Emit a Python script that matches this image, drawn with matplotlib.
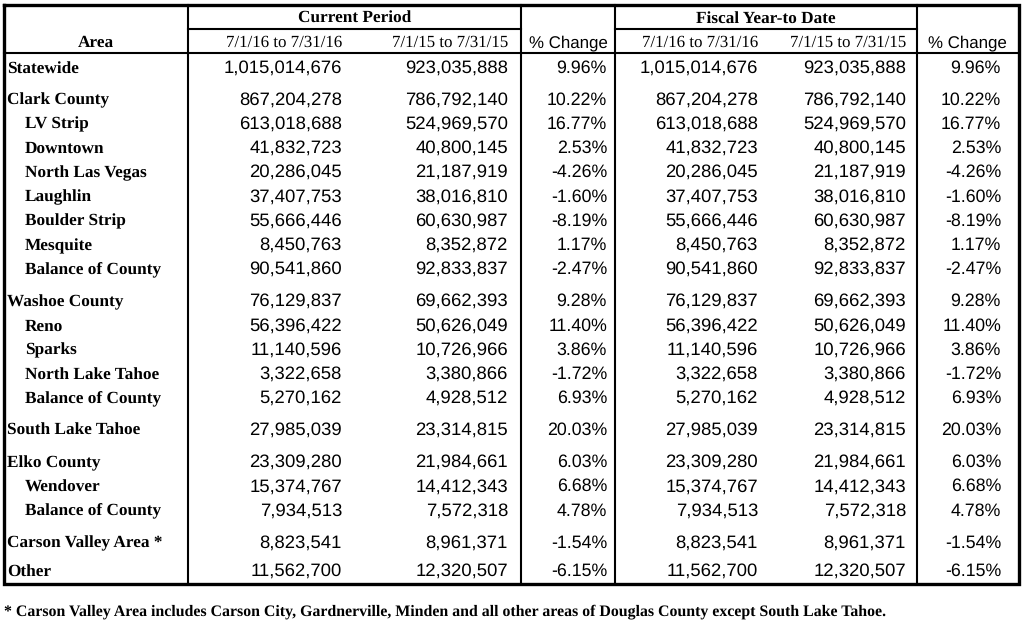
import numpy as np
import matplotlib.pyplot as plt

plt.rcParams['text.hinting'] = 'no_hinting'

# table contents
areas = ['Statewide', 'Clark County', 'LV Strip', 'Downtown', 'North Las Vegas',
         'Laughlin', 'Boulder Strip', 'Mesquite', 'Balance of County',
         'Washoe County', 'Reno', 'Sparks', 'North Lake Tahoe', 'Balance of County',
         'South Lake Tahoe', 'Elko County', 'Wendover', 'Balance of County',
         'Carson Valley Area *', 'Other']
indent = [0, 0, 1, 1, 1, 1, 1, 1, 1, 0, 1, 1, 1, 1, 0, 0, 1, 1, 0, 0]

cur_2016 = [1015014676, 867204278, 613018688, 41832723, 20286045, 37407753,
            55666446, 8450763, 90541860, 76129837, 56396422, 11140596, 3322658,
            5270162, 27985039, 23309280, 15374767, 7934513, 8823541, 11562700]
cur_2015 = [923035888, 786792140, 524969570, 40800145, 21187919, 38016810,
            60630987, 8352872, 92833837, 69662393, 50626049, 10726966, 3380866,
            4928512, 23314815, 21984661, 14412343, 7572318, 8961371, 12320507]
cur_pct = [9.96, 10.22, 16.77, 2.53, -4.26, -1.60, -8.19, 1.17, -2.47, 9.28,
           11.40, 3.86, -1.72, 6.93, 20.03, 6.03, 6.68, 4.78, -1.54, -6.15]

ytd_2016 = [1015014676, 867204278, 613018688, 41832723, 20286045, 37407753,
            55666446, 8450763, 90541860, 76129837, 56396422, 11140596, 3322658,
            5270162, 27985039, 23309280, 15374767, 7934513, 8823541, 11562700]
ytd_2015 = [923035888, 786792140, 524969570, 40800145, 21187919, 38016810,
            60630987, 8352872, 92833837, 69662393, 50626049, 10726966, 3380866,
            4928512, 23314815, 21984661, 14412343, 7572318, 8961371, 12320507]
ytd_pct = [9.96, 10.22, 16.77, 2.53, -4.26, -1.60, -8.19, 1.17, -2.47, 9.28,
           11.40, 3.86, -1.72, 6.93, 20.03, 6.03, 6.68, 4.78, -1.54, -6.15]

group_titles = ['Current Period', 'Fiscal Year-to Date']
period_labels = ['7/1/16 to 7/31/16', '7/1/15 to 7/31/15']
footnote = ('* Carson Valley Area includes Carson City, Gardnerville, Minden and '
            'all other areas of Douglas County except South Lake Tahoe.')

# layout (pixel units of the 1024x627 image)
gap_before = [0, 1, 0, 0, 0, 0, 0, 0, 0, 1, 0, 0, 0, 0, 1, 1, 0, 0, 1, 0.5]
row_y = 67 + 24.25 * np.arange(len(areas)) + 7.7 * np.cumsum(gap_before)
base = 5.5

serif = 'Liberation Serif'
sans = 'Liberation Sans'
num_size = 13.3
pct_size = 12.8
lab_size = 12.4

fig = plt.figure(figsize=(10.24, 6.27), dpi=100)
ax = fig.add_axes([0, 0, 1, 1])
ax.set_xlim(0, 1024)
ax.set_ylim(627, 0)
ax.axis('off')

left, right, top, bottom = 4, 1019, 5, 584
vlines = [188, 521, 615, 917]
thin = 1.5
thick = 2.4

ax.plot([left, right, right, left, left], [top, top, bottom, bottom, top],
        color='black', lw=thick, solid_joinstyle='miter')
for x in vlines:
    ax.plot([x, x], [top, bottom], color='black', lw=thin)
ax.plot([left, right], [53, 53], color='black', lw=thin)
ax.plot([188, 521], [29, 29], color='black', lw=thin)
ax.plot([615, 917], [29, 29], color='black', lw=thin)

# header
ax.text(96, 47, 'Area', family=serif, weight='bold', fontsize=lab_size,
        ha='center', va='baseline')
ax.text((188 + 521) / 2, 22.5, group_titles[0], family=serif, weight='bold',
        fontsize=lab_size, ha='center', va='baseline')
ax.text((615 + 917) / 2, 22.5, group_titles[1], family=serif, weight='bold',
        fontsize=lab_size, ha='center', va='baseline')

num_right = [342, 508, 607, 758, 906, 1001]
for xr, lbl in zip([num_right[0], num_right[1], num_right[3], num_right[4]],
                   period_labels * 2):
    ax.text(xr, 47, lbl, family=serif, fontsize=12.2, ha='right', va='baseline')
ax.text(568, 47, '% Change', family=sans, fontsize=12.2, ha='center', va='baseline')
ax.text(967, 47, '% Change', family=sans, fontsize=12.2, ha='center', va='baseline')

# body
columns = [cur_2016, cur_2015, cur_pct, ytd_2016, ytd_2015, ytd_pct]
for i, name in enumerate(areas):
    y = row_y[i] + base
    ax.text(7 + 18 * indent[i], y, name, family=serif, weight='bold',
            fontsize=lab_size, ha='left', va='baseline')
    for j, col in enumerate(columns):
        if j in (2, 5):
            s = f'{col[i]:.2f}%'
            size = pct_size
        else:
            s = f'{col[i]:,}'
            size = num_size
        ax.text(num_right[j], y, s, family=sans, fontsize=size,
                ha='right', va='baseline')

ax.text(4, 615, footnote, family=serif, weight='bold', fontsize=11.4,
        ha='left', va='baseline')

fig.savefig('out.png', dpi=100)
